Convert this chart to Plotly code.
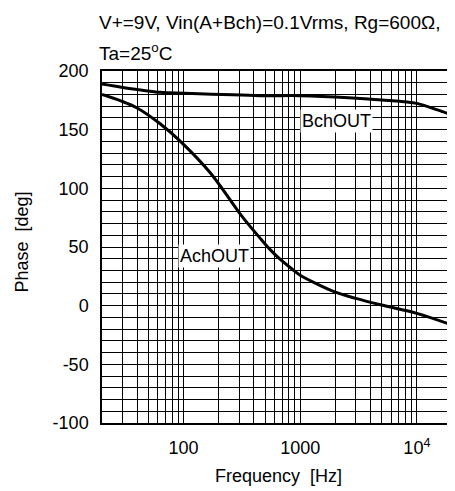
import math
import plotly.graph_objects as go

# ---- data ----
freq_b = [20, 30, 63, 100, 450, 1000, 2600, 5000, 10000, 15000, 20000]
phase_b = [188.9, 186, 181.8, 181, 179, 179, 177.3, 175.3, 172.4, 166.8, 162.5]

freq_a = [20, 29, 40, 63, 94, 170, 303, 369, 449, 550, 664, 856, 1000, 2000, 3000, 5000, 10000, 20000]
phase_a = [180, 174.5, 168.5, 155, 140, 113, 78.7, 68, 58, 48, 40, 31, 26, 11.5, 6.2, 0.5, -6.6, -16.5]

x_grid = [20, 30, 40, 50, 60, 70, 80, 90,
          200, 300, 400, 500, 600, 700, 800, 900,
          2000, 3000, 4000, 5000, 6000, 7000, 8000, 9000,
          20000]
x_ticks = [100, 1000, 10000]
x_labels = ["100", "1000", "10<sup>4</sup>"]
y_ticks = [-100, -50, 0, 50, 100, 150, 200]
y_labels = ["-100", "-50", "0", "50", "100", "150", "200"]

FONT = "Liberation Sans, Arial, sans-serif"
FS = 18

fig = go.Figure()
fig.add_trace(go.Scatter(x=freq_b, y=phase_b, mode="lines",
                         line=dict(color="black", width=3, shape="spline", smoothing=0.8),
                         showlegend=False))
fig.add_trace(go.Scatter(x=freq_a, y=phase_a, mode="lines",
                         line=dict(color="black", width=3, shape="spline", smoothing=0.9),
                         showlegend=False))

fig.update_xaxes(type="log", range=[math.log10(20), math.log10(20000)],
                 tickvals=x_ticks, ticktext=x_labels,
                 showgrid=True, gridcolor="black", gridwidth=1,
                 minor=dict(tickvals=x_grid, showgrid=True, gridcolor="black", gridwidth=1, ticks=""),
                 showline=True, linecolor="black", linewidth=1.5, mirror=True,
                 ticks="", ticklabelstandoff=8,
                 tickfont=dict(family=FONT, size=FS, color="black"),
                 zeroline=False)
fig.update_yaxes(range=[-100, 200], tickvals=y_ticks, ticktext=y_labels,
                 showgrid=True, gridcolor="black", gridwidth=1,
                 minor=dict(dtick=10, showgrid=True, gridcolor="black", gridwidth=1),
                 showline=True, linecolor="black", linewidth=1.5, mirror=True,
                 ticks="", ticklabelstandoff=8,
                 tickfont=dict(family=FONT, size=FS, color="black"),
                 zeroline=False)

ann_font = dict(family=FONT, size=FS, color="black")
title_font = dict(family=FONT, size=19, color="black")
annotations = [
    dict(x=math.log10(186), y=42.3, xref="x", yref="y", text="AchOUT",
         showarrow=False, bgcolor="white", font=ann_font, borderpad=1),
    dict(x=math.log10(2036), y=157.8, xref="x", yref="y", text="BchOUT",
         showarrow=False, bgcolor="white", font=ann_font, borderpad=1),
    dict(x=-0.014, y=1.139, xref="paper", yref="paper", xanchor="left", yanchor="middle",
         text="V+=9V, Vin(A+Bch)=0.1Vrms, Rg=600Ω,", showarrow=False, font=title_font),
    dict(x=-0.014, y=1.054, xref="paper", yref="paper", xanchor="left", yanchor="middle",
         text="Ta=25<sup>o</sup>C", showarrow=False, font=title_font),
    dict(x=0.504, y=-0.151, xref="paper", yref="paper", xanchor="center", yanchor="middle",
         text="Frequency  [Hz]", showarrow=False, font=ann_font),
    dict(x=-0.227, y=0.514, xref="paper", yref="paper", xanchor="center", yanchor="middle",
         text="Phase  [deg]", textangle=-90, showarrow=False, font=ann_font),
]

fig.update_layout(width=447, height=483,
                  margin=dict(l=94, r=1, t=63, b=68),
                  paper_bgcolor="white", plot_bgcolor="white",
                  font=dict(family=FONT, size=FS, color="black"),
                  annotations=annotations)

fig.write_html("out.html")
